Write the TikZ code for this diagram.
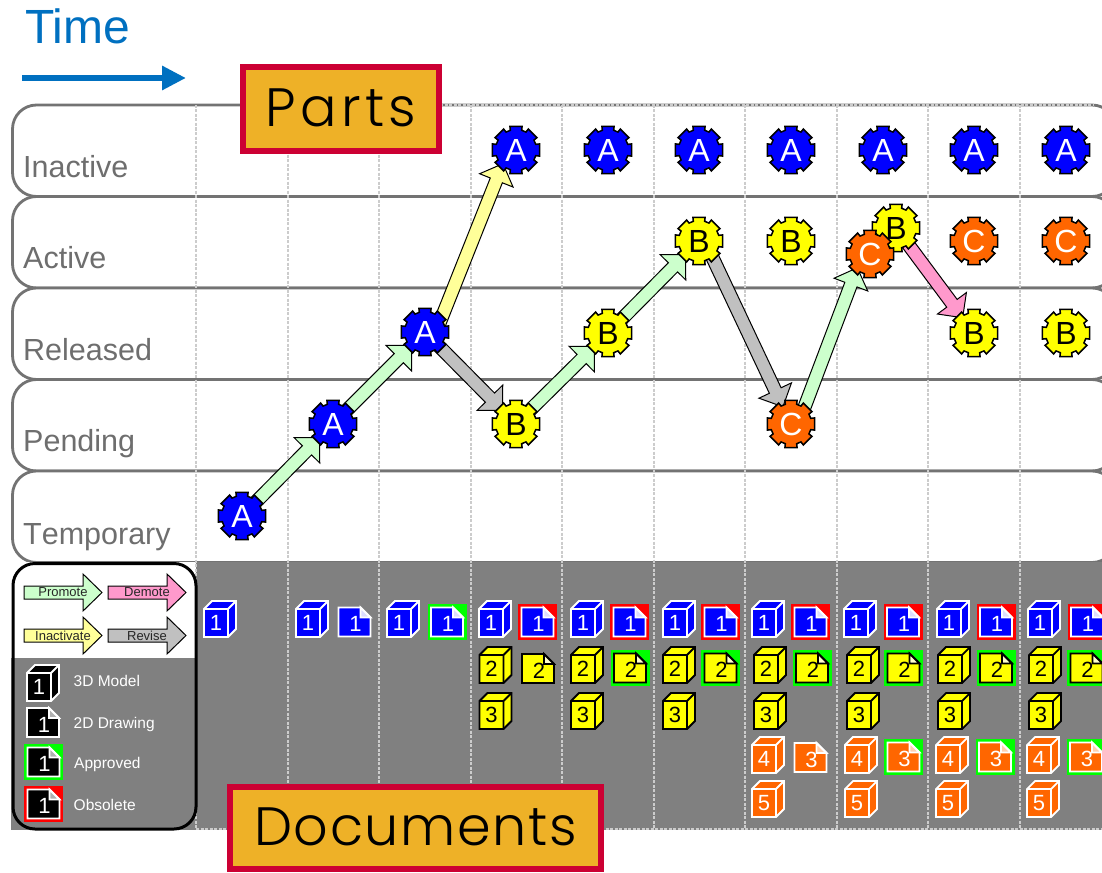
\documentclass[tikz,border=0pt]{standalone}
\usepackage{fontspec}
\setmainfont{Liberation Sans}
\newfontfamily\rowfont[Kerning=Off]{Liberation Sans}
\newfontfamily\boxfont[LetterSpace=3]{Poppins Light}
\newfontfamily\partsfont[LetterSpace=8]{Poppins Light}
\usetikzlibrary{calc,arrows.meta}
\pgfdeclarelayer{under}
\pgfdeclarelayer{flows}
\pgfsetlayers{under,flows,main}
\definecolor{rowline}{HTML}{737373}
\definecolor{rowtext}{HTML}{6E6E6E}
\definecolor{panel}{HTML}{808080}
\definecolor{dashc}{HTML}{CCCCCC}
\definecolor{partblue}{HTML}{0000FF}
\definecolor{partyellow}{HTML}{FFFF00}
\definecolor{partorange}{HTML}{FF6600}
\definecolor{promotec}{HTML}{CCFFCC}
\definecolor{demotec}{HTML}{FF99CC}
\definecolor{inactivec}{HTML}{FFFF99}
\definecolor{revisec}{HTML}{C0C0C0}
\definecolor{timeblue}{HTML}{0070C0}
\definecolor{boxrim}{HTML}{CC0033}
\definecolor{boxfill}{HTML}{EEB127}
\definecolor{foldblue}{HTML}{DDDDFF}
\definecolor{foldyellow}{HTML}{FFFFCC}
\definecolor{foldorange}{HTML}{FFD0B0}
\definecolor{foldblack}{HTML}{B0B0B0}
\newcommand\pxfont[1]{\fontsize{#1}{#1}\selectfont}
\tikzset{
  rowbox/.style={draw=rowline,line width=2.8pt,fill=white,rounded corners=24pt},
  rowlabel/.style={anchor=base west,inner sep=0pt,text=rowtext,font=\rowfont\pxfont{30.5}},
  gridline/.style={draw=dashc,line width=1.3pt,dash pattern=on 3pt off 1.5pt},
  gearline/.style={draw=black,line width=1.5pt,line join=miter},
  gearlabel/.style={circle,inner sep=0pt,minimum size=40pt,font=\pxfont{32}},
  flowline/.style={draw=black,line width=1pt,line join=miter},
  iconline/.style={line width=1.8pt,line join=miter},
  iconlabel/.style={inner sep=0pt,font=\pxfont{22}},
  keylabel/.style={inner sep=0pt,text=black!85,font=\pxfont{13}},
  legendlabel/.style={anchor=base west,inner sep=0pt,text=white,font=\pxfont{15.5}},
  namebox/.style={draw=boxrim,fill=boxfill,line width=6pt,inner sep=0pt,text=black,text height=40pt,text depth=6pt},
}
\newcount\docn
\newcommand\gearnode[6]{%
  \begin{scope}[shift={(#2,#3)}]
    \draw[gearline,fill=#4] (-14.5:24.3pt)
      \foreach \a in {0,45,...,315}{ -- (\a-14.5:24.3pt) -- (\a+14.5:24.3pt) -- (\a+16:20.5pt) -- (\a+29:20.5pt)} -- cycle;
  \end{scope}
  \node[gearlabel,text=#5] (#1) at (#2,#3) {#6};}
\newcommand\flow[3]{%
  \draw[flowline,fill=#3] let \p1=(#1), \p2=(#2),
      \n1={atan2(\y2-\y1,\x2-\x1)},
      \n2={veclen(\x2-\x1,\y2-\y1)-37pt},
      \n3={veclen(\x2-\x1,\y2-\y1)-19pt} in
    ($(\p1)+(\n1+90:6.5pt)$) -- ($(\p1)+(\n1:\n2)+(\n1+90:6.5pt)$) -- ($(\p1)+(\n1:\n2)+(\n1+90:18pt)$)
    -- ($(\p1)+(\n1:\n3)$)
    -- ($(\p1)+(\n1:\n2)+(\n1-90:18pt)$) -- ($(\p1)+(\n1:\n2)+(\n1-90:6.5pt)$) -- ($(\p1)+(\n1-90:6.5pt)$) -- cycle;}
\newcommand\cubeicon[6]{%
  \global\advance\docn by 1
  \begin{scope}[shift={(#1,#2)}]
    \draw[iconline,draw=#4,fill=#3] (-16,-10) -- (-8,-18) -- (16,-18) -- (16,10) -- (8,18) -- (-16,18) -- cycle;
    \draw[iconline,draw=#4] (-16,-10) -- (8,-10) -- (8,18) (8,-10) -- (16,-18);
    \node[iconlabel,text=#5] (doc\the\docn) at (-4,4) {#6};
  \end{scope}}
\newcommand\sheeticon[7]{%
  \global\advance\docn by 1
  \begin{scope}[shift={(#1,#2)}]
    \draw[iconline,draw=#4,fill=#3] (-16,-14.5) -- (6,-14.5) -- (16,-4.5) -- (16,14.5) -- (-16,14.5) -- cycle;
    \draw[iconline,draw=#4,fill=#7] (6,-14.5) -- (6,-4.5) -- (16,-4.5) -- cycle;
    \node[iconlabel,text=#5] (doc\the\docn) at (1,2) {#6};
  \end{scope}}
\newcommand\ringback[3]{%
  \begin{scope}[shift={(#1,#2)}]
    \fill[#3] (-19.5,-18) rectangle (19.5,18);
  \end{scope}}
\newcommand\keyarrow[5]{%
  \begin{scope}[shift={(#1,#2)}]
    \draw[flowline,fill=#3] (0,-6.5) -- (59,-6.5) -- (59,-18.5) -- (78,0) -- (59,18.5) -- (59,6.5) -- (0,6.5) -- cycle;
    \node[keylabel] (#5) at (39,0) {#4};
  \end{scope}}
\begin{document}
\begin{tikzpicture}[x=1pt,y=-1pt]
\useasboundingbox (0,0) rectangle (1102,872);
\begin{pgfonlayer}{under}
\begin{scope}
  \clip (0,0) rectangle (1102,872);
  \draw[rowbox] (12.5,105) rectangle (1116,196.5);
  \draw[rowbox] (12.5,196.5) rectangle (1116,288);
  \draw[rowbox] (12.5,288) rectangle (1116,379.5);
  \draw[rowbox] (12.5,379.5) rectangle (1116,471);
  \draw[rowbox] (12.5,471) rectangle (1116,562.5);
  \fill[panel] (11,562) rectangle (1102,830);
  \fill[white] (11,561.5) rectangle (196,658);
  \draw[gridline] (440,105) -- (1094,105);
  \draw[gridline] (196,829) -- (1102,829);
  \foreach \gx in {196,288,379,471,562,654,745,837,928,1020}
    \draw[gridline] (\gx,105) -- (\gx,829);
  \draw[black,line width=3pt,rounded corners=22pt] (13,563.5) rectangle (196,829);
  \keyarrow{24}{592.5}{promotec}{Promote}{keyP}
  \keyarrow{108}{592.5}{demotec}{Demote}{keyD}
  \keyarrow{24}{635.5}{inactivec}{Inactivate}{keyI}
  \keyarrow{108}{635.5}{revisec}{Revise}{keyR}
  \cubeicon{43}{683}{black}{white}{white}{1}
  \sheeticon{43}{722.5}{black}{white}{white}{1}{foldblack}
  \ringback{43.5}{762}{green}
  \sheeticon{43.5}{762}{black}{white}{white}{1}{foldblack}
  \ringback{43.5}{804}{red}
  \sheeticon{43.5}{804}{black}{white}{white}{1}{foldblack}
  \node[legendlabel] (lg3d) at (73.5,686) {3D Model};
  \node[legendlabel] (lg2d) at (73.5,728) {2D Drawing};
  \node[legendlabel] (lgap) at (74,768) {Approved};
  \node[legendlabel] (lgob) at (73.5,810) {Obsolete};
  \cubeicon{220}{619}{partblue}{white}{white}{1}
  \cubeicon{312}{619}{partblue}{white}{white}{1}
  \sheeticon{354.5}{622}{partblue}{white}{white}{1}{foldblue}
  \cubeicon{403}{619}{partblue}{white}{white}{1}
  \ringback{447}{622}{green}
  \sheeticon{447}{622}{partblue}{white}{white}{1}{foldblue}
  \foreach \cx/\dx in {495/537.5,587/629.5,679/720.5,768/810.5,860/903,953/996,1044/1087}{
    \cubeicon{\cx}{619}{partblue}{white}{white}{1}
    \ringback{\dx}{622}{red}
    \sheeticon{\dx}{622}{partblue}{white}{white}{1}{foldblue}
  }
  \foreach \cx in {495.5,587,679,770,863,954,1045}{
    \cubeicon{\cx}{665}{partyellow}{black}{black}{2}
    \cubeicon{\cx}{711}{partyellow}{black}{black}{3}
  }
  \sheeticon{538}{668.5}{partyellow}{black}{black}{2}{foldyellow}
  \foreach \dx in {630,720.5,812,903.5,996,1086.5}{
    \ringback{\dx}{668}{green}
    \sheeticon{\dx}{668}{partyellow}{black}{black}{2}{foldyellow}
  }
  \foreach \cx in {768,861,952,1043}{
    \cubeicon{\cx}{755}{partorange}{white}{white}{4}
    \cubeicon{\cx}{799}{partorange}{white}{white}{5}
  }
  \sheeticon{810.5}{757.5}{partorange}{white}{white}{3}{foldorange}
  \foreach \dx in {903.5,995,1086}{
    \ringback{\dx}{757}{green}
    \sheeticon{\dx}{757}{partorange}{white}{white}{3}{foldorange}
  }
  \node[rowlabel] (lInactive) at (23,177) {Inactive};
  \node[rowlabel] (lActive) at (23,268) {Active};
  \node[rowlabel] (lReleased) at (23,360) {Released};
  \node[rowlabel] (lPending) at (23,451) {Pending};
  \node[rowlabel] (lTemporary) at (23,544) {Temporary};
\end{scope}
\end{pgfonlayer}
\node[anchor=base west,inner sep=0pt,text=timeblue,font=\pxfont{48}] (time) at (25,44) {Time};
\coordinate (timeA) at (22,78);
\coordinate (timeB) at (186,78);
\draw[timeblue,line width=6.5pt,-{Triangle[length=24pt,width=23pt]}] (timeA) -- (timeB);
\gearnode{a1}{242}{516}{partblue}{white}{A}
\gearnode{a2}{333}{424}{partblue}{white}{A}
\gearnode{a3}{425}{332}{partblue}{white}{A}
\gearnode{a4}{516}{150}{partblue}{white}{A}
\gearnode{a5}{608}{150}{partblue}{white}{A}
\gearnode{a6}{699}{150}{partblue}{white}{A}
\gearnode{a7}{791}{150}{partblue}{white}{A}
\gearnode{a8}{883}{150}{partblue}{white}{A}
\gearnode{a9}{974}{150}{partblue}{white}{A}
\gearnode{a10}{1066}{150}{partblue}{white}{A}
\gearnode{b1}{516}{424}{partyellow}{black}{B}
\gearnode{b2}{608}{333}{partyellow}{black}{B}
\gearnode{b3}{699}{241}{partyellow}{black}{B}
\gearnode{b4}{791}{241}{partyellow}{black}{B}
\gearnode{b5}{896}{228}{partyellow}{black}{B}
\gearnode{b6}{974}{333}{partyellow}{black}{B}
\gearnode{b7}{1066}{333}{partyellow}{black}{B}
\gearnode{c1}{791}{424}{partorange}{white}{C}
\gearnode{c2}{870}{254}{partorange}{white}{C}
\gearnode{c3}{974}{241}{partorange}{white}{C}
\gearnode{c4}{1066}{241}{partorange}{white}{C}
\coordinate (a3out) at (436,332);
\coordinate (a4in) at (510,146);
\coordinate (c2in) at (864,250);
\begin{pgfonlayer}{flows}
  \flow{a1}{a2}{promotec}
  \flow{a2}{a3}{promotec}
  \flow{a3out}{a4in}{inactivec}
  \flow{a3}{b1}{revisec}
  \flow{b1}{b2}{promotec}
  \flow{b2}{b3}{promotec}
  \flow{b3.-50}{c1}{revisec}
  \flow{c1.50}{c2in}{promotec}
  \flow{b5}{b6}{demotec}
\end{pgfonlayer}
\node[namebox,minimum width=196pt,minimum height=84pt,font=\partsfont\pxfont{54}] (parts) at (341,109) {Parts};
\node[namebox,minimum width=371pt,minimum height=82pt,font=\boxfont\pxfont{54}] (docs) at (415.5,828) {Documents};
\end{tikzpicture}
\end{document}
